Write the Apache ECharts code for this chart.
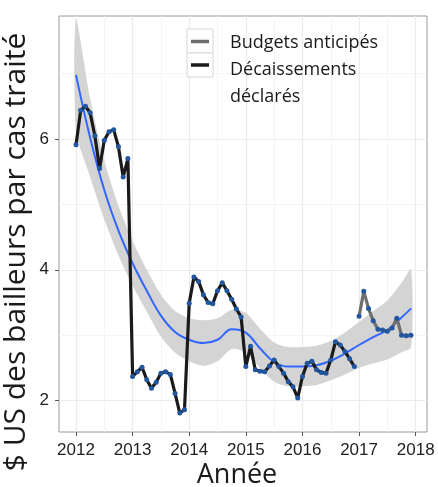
<!DOCTYPE html>
<html>
<head>
<meta charset="utf-8">
<script src="https://cdn.jsdelivr.net/npm/echarts@6/dist/echarts.min.js"></script>
<style>
  html, body { margin: 0; padding: 0; background: #fff; }
  #main { width: 438px; height: 487px; }
</style>
</head>
<body>
<div id="main"></div>
<script>
  // valeurs (mensuelles)
  var decStart = 2012;   // janvier 2012
  var decaissements = [
    5.91, 6.44, 6.50, 6.40, 6.05, 5.55, 5.98, 6.11, 6.14, 5.88, 5.42, 5.70,
    2.37, 2.44, 2.51, 2.32, 2.19, 2.28, 2.42, 2.44, 2.40, 2.11, 1.81, 1.86,
    3.49, 3.89, 3.82, 3.62, 3.50, 3.48, 3.68, 3.80, 3.68, 3.55, 3.40, 3.28,
    2.52, 2.83, 2.47, 2.45, 2.44, 2.53, 2.62, 2.52, 2.42, 2.29, 2.21, 2.04,
    2.37, 2.57, 2.60, 2.47, 2.43, 2.42, 2.62, 2.90, 2.85, 2.75, 2.64, 2.52
  ];
  var budStart = 2017;   // janvier 2017
  var budgets = [3.29, 3.67, 3.41, 3.22, 3.09, 3.08, 3.06, 3.11, 3.26, 3.00, 2.99, 3.00];

  // courbe lissée (loess) et intervalle de confiance
  var smoothX = [2012.0, 2012.25, 2012.5, 2012.75, 2013.0, 2013.25, 2013.5, 2013.75, 2014.0, 2014.25, 2014.5, 2014.75,
                 2015.0, 2015.25, 2015.5, 2015.75, 2016.0, 2016.25, 2016.5, 2016.75, 2017.0, 2017.25, 2017.5, 2017.75, 2017.92];
  var smoothY = [6.98, 6.02, 5.22, 4.60, 4.10, 3.68, 3.30, 3.05, 2.93, 2.88, 2.93, 3.09,
                 3.04, 2.80, 2.59, 2.52, 2.52, 2.54, 2.61, 2.72, 2.85, 2.97, 3.08, 3.27, 3.41];
  var ciLow  = [6.13, 5.42, 4.77, 4.22, 3.76, 3.36, 2.98, 2.73, 2.60, 2.53, 2.60, 2.79,
                2.74, 2.50, 2.29, 2.22, 2.22, 2.24, 2.31, 2.40, 2.50, 2.57, 2.63, 2.74, 2.81];
  var ciHigh = [7.83, 6.62, 5.67, 4.98, 4.44, 4.00, 3.62, 3.37, 3.26, 3.23, 3.26, 3.39,
                3.34, 3.10, 2.89, 2.82, 2.82, 2.84, 2.91, 3.04, 3.20, 3.37, 3.53, 3.80, 4.01];

  var yearTicks = [2012, 2013, 2014, 2015, 2016, 2017, 2018];
  var yearMinor = [2012.5, 2013.5, 2014.5, 2015.5, 2016.5, 2017.5];
  var yTicks = [2, 4, 6];
  var yMinor = [3, 5, 7];

  function monthly(start, vals) {
    return vals.map(function (v, i) { return [start + i / 12, v]; });
  }

  var blue = '#22569f';
  var gridCol = '#ebebeb';
  var txtFont = '"Open Sans", "Noto Sans", sans-serif';

  // bande de confiance : un polygone passant par les points de ciHigh puis ciLow
  function renderBand(params, api) {
    if (params.dataIndex !== 0) return null;
    var upper = [], lower = [];
    for (var i = 0; i < smoothX.length; i++) {
      upper.push(api.coord([smoothX[i], ciHigh[i]]));
      lower.unshift(api.coord([smoothX[i], ciLow[i]]));
    }
    return {
      type: 'polygon',
      shape: { points: upper.concat(lower), smooth: 0.25 },
      style: { fill: '#d4d4d4', stroke: 'none' }
    };
  }

  var chart = echarts.init(document.getElementById('main'));
  chart.setOption({
    animation: false,
    backgroundColor: '#fff',
    grid: {
      left: 59, right: 11, top: 16, bottom: 55,
      show: true, borderColor: '#9a9a9a', borderWidth: 1, backgroundColor: '#fff'
    },
    xAxis: [{
      type: 'value', min: 2011.7, max: 2018.2,
      axisLine: { show: false },
      axisTick: { show: true, customValues: yearTicks, length: 4, lineStyle: { color: '#555' } },
      axisLabel: { customValues: yearTicks, fontSize: 17, color: '#222', margin: 10, fontFamily: 'Liberation Sans',
        formatter: function (v) { return String(v); } },
      splitLine: { show: true, lineStyle: { color: gridCol, width: 1.2 } }
    }, {
      type: 'value', min: 2011.7, max: 2018.2, position: 'bottom',
      axisLine: { show: false }, axisLabel: { show: false },
      axisTick: { show: false, customValues: yearMinor },
      splitLine: { show: true, lineStyle: { color: '#f3f3f3', width: 0.8 } }
    }],
    yAxis: [{
      type: 'value', min: 1.52, max: 7.88,
      axisLine: { show: false },
      axisTick: { show: true, customValues: yTicks, length: 4, lineStyle: { color: '#555' } },
      axisLabel: { customValues: yTicks, fontSize: 17, color: '#222', margin: 10, fontFamily: 'Liberation Sans' },
      splitLine: { show: true, lineStyle: { color: gridCol, width: 1.2 } }
    }, {
      type: 'value', min: 1.52, max: 7.88, position: 'left',
      axisLine: { show: false }, axisLabel: { show: false },
      axisTick: { show: false, customValues: yMinor },
      splitLine: { show: true, lineStyle: { color: '#f3f3f3', width: 0.8 } }
    }],
    series: [
      {
        name: 'IC', type: 'custom', silent: true, clip: true,
        renderItem: renderBand,
        data: smoothX.map(function (x, i) { return [x, ciLow[i], ciHigh[i]]; }),
        encode: { x: 0, y: [1, 2] }
      },
      {
        name: 'loess', type: 'line', smooth: 0.4, symbol: 'none',
        lineStyle: { color: '#3366ff', width: 2 },
        data: smoothX.map(function (x, i) { return [x, smoothY[i]]; })
      },
      {
        name: 'Décaissements déclarés', type: 'line', symbol: 'circle', symbolSize: 5,
        showAllSymbol: true,
        lineStyle: { color: '#1a1a1a', width: 3.2 },
        itemStyle: { color: blue },
        data: monthly(decStart, decaissements)
      },
      {
        name: 'Budgets anticipés', type: 'line', symbol: 'circle', symbolSize: 5,
        showAllSymbol: true,
        lineStyle: { color: '#6e6e6e', width: 3.2 },
        itemStyle: { color: blue },
        data: monthly(budStart, budgets)
      }
    ],
    graphic: [
      // légende
      { type: 'rect', z: 100, shape: { x: 187, y: 29, width: 26, height: 24 }, style: { fill: '#fff', stroke: '#d6d6d6', lineWidth: 1 } },
      { type: 'rect', z: 100, shape: { x: 187, y: 53, width: 26, height: 24 }, style: { fill: '#fff', stroke: '#d6d6d6', lineWidth: 1 } },
      { type: 'line', z: 101, shape: { x1: 191, y1: 41.5, x2: 209, y2: 41.5 }, style: { stroke: '#6e6e6e', lineWidth: 3.5 } },
      { type: 'line', z: 101, shape: { x1: 191, y1: 65, x2: 209, y2: 65 }, style: { stroke: '#1a1a1a', lineWidth: 3.5 } },
      { type: 'text', z: 101, x: 230, y: 43, style: { text: 'Budgets anticipés', font: '18px ' + txtFont, fill: '#1a1a1a', verticalAlign: 'middle' } },
      { type: 'text', z: 101, x: 230, y: 70, style: { text: 'Décaissements', font: '18px ' + txtFont, fill: '#1a1a1a', verticalAlign: 'middle' } },
      { type: 'text', z: 101, x: 230, y: 97, style: { text: 'déclarés', font: '18px ' + txtFont, fill: '#1a1a1a', verticalAlign: 'middle' } },
      // titres des axes
      { type: 'text', z: 101, x: 237, y: 475, style: { text: 'Année', font: '27px ' + txtFont, fill: '#1a1a1a', align: 'center', verticalAlign: 'middle' } },
      { type: 'text', z: 101, x: 16, y: 252, rotation: Math.PI / 2,
        style: { text: '$ US des bailleurs par cas traité', font: '30px ' + txtFont, fill: '#1a1a1a', align: 'center', verticalAlign: 'middle' } }
    ]
  });
</script>
</body>
</html>
